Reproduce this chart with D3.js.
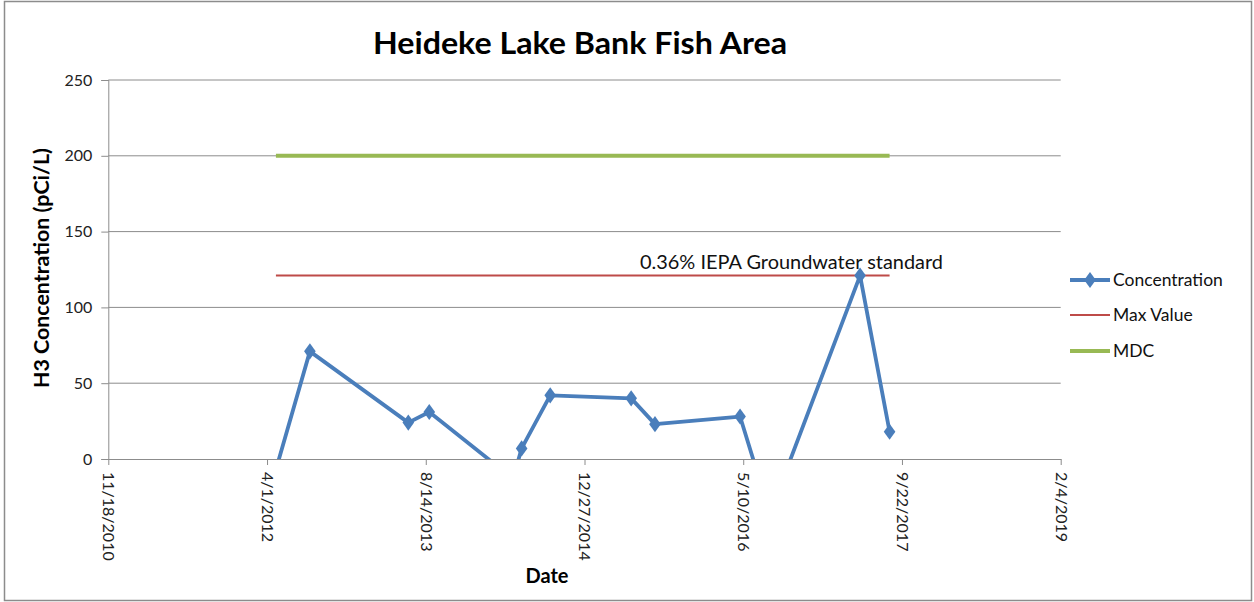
<!DOCTYPE html>
<html>
<head>
<meta charset="utf-8">
<script src="https://cdn.jsdelivr.net/npm/d3@7"></script>
<style>
  html, body { margin: 0; padding: 0; background: #fff; }
  svg { display: block; }
  text { font-family: Lato, "Open Sans", sans-serif; }
</style>
</head>
<body>
<script>
// ---- data ----
const sampleDates = ["2012-04-29","2012-08-14","2013-06-20","2013-08-25","2014-05-16","2014-06-12","2014-09-10","2015-05-23","2015-08-06","2016-04-30","2016-08-02","2017-05-13","2017-08-14"];
const concentration = [-7, 71, 24, 31, -13, 7, 42, 40, 23, 28, -36, 121, 18];
const maxValue = 121;
const mdcValue = 200;
const xTickLabels = ["2010-11-18","2012-04-01","2013-08-14","2014-12-27","2016-05-10","2017-09-22","2019-02-04"];
const yTicks = [0, 50, 100, 150, 200, 250];
const seriesNames = ["Concentration", "Max Value", "MDC"];
const titleText = "Heideke Lake Bank Fish Area";
const annotationText = "0.36% IEPA Groundwater standard";

// ---- setup ----
const W = 1254, H = 602;
const parse = d3.utcParse("%Y-%m-%d");
const fmt = d3.utcFormat("%-m/%-d/%Y");
const plot = { left: 108.3, right: 1060.7, top: 80, bottom: 459 };

const svg = d3.select("body").append("svg").attr("width", W).attr("height", H);

svg.append("rect").attr("x", 4.5).attr("y", 1.5).attr("width", 1247).attr("height", 599)
  .attr("fill", "#fff").attr("stroke", "#8c8c8c").attr("stroke-width", 1.5);

const x = d3.scaleUtc()
  .domain([parse(xTickLabels[0]), parse(xTickLabels[xTickLabels.length - 1])])
  .range([plot.left, plot.right]);
const y = d3.scaleLinear().domain([0, 250]).range([plot.bottom, plot.top]);

// gridlines
svg.append("g").selectAll("line").data(yTicks.filter(d => d > 0)).join("line")
  .attr("x1", plot.left).attr("x2", plot.right)
  .attr("y1", d => y(d)).attr("y2", d => y(d))
  .attr("stroke", "#8c8c8c").attr("stroke-width", 1);

// y axis
const yAxis = svg.append("g").attr("transform", `translate(${plot.left},0)`)
  .call(d3.axisLeft(y).tickValues(yTicks).tickSize(7).tickPadding(9));
yAxis.select(".domain").attr("stroke", "#8c8c8c");
yAxis.selectAll(".tick line").attr("stroke", "#8c8c8c");
yAxis.selectAll(".tick text").attr("font-size", 16).attr("fill", "#222")
  .attr("font-family", "Lato, sans-serif");

// x axis
const xAxis = svg.append("g").attr("transform", `translate(0,${plot.bottom})`)
  .call(d3.axisBottom(x).tickValues(xTickLabels.map(parse)).tickFormat(fmt).tickSize(6).tickSizeOuter(0));
xAxis.select(".domain").attr("stroke", "#8c8c8c");
xAxis.selectAll(".tick line").attr("stroke", "#8c8c8c");
xAxis.selectAll(".tick text")
  .attr("font-size", 16).attr("fill", "#222").attr("font-family", "Lato, sans-serif")
  .attr("text-anchor", "start").attr("dy", "0.35em")
  .attr("transform", "translate(0,13) rotate(90)").attr("x", 0).attr("y", 0);

// clip
svg.append("clipPath").attr("id", "clip").append("rect")
  .attr("x", plot.left).attr("y", plot.top)
  .attr("width", plot.right - plot.left).attr("height", plot.bottom - plot.top);

const g = svg.append("g").attr("clip-path", "url(#clip)");
const pts = sampleDates.map((d, i) => ({ date: parse(d), v: concentration[i] }));
const first = pts[0].date, last = pts[pts.length - 1].date;

// MDC line
g.append("path").datum([{ date: first, v: mdcValue }, { date: last, v: mdcValue }])
  .attr("d", d3.line().x(d => x(d.date)).y(d => y(d.v)))
  .attr("stroke", "#98b954").attr("stroke-width", 4).attr("fill", "none");
// Max line
g.append("path").datum([{ date: first, v: maxValue }, { date: last, v: maxValue }])
  .attr("d", d3.line().x(d => x(d.date)).y(d => y(d.v)))
  .attr("stroke", "#be4b48").attr("stroke-width", 2).attr("fill", "none");

// concentration
const blue = "#4a7ebb";
g.append("path").datum(pts)
  .attr("d", d3.line().x(d => x(d.date)).y(d => y(d.v)))
  .attr("stroke", blue).attr("stroke-width", 3.8).attr("fill", "none").attr("stroke-linejoin", "round");
const diamond = d3.symbol().type(d3.symbolDiamond).size(75);
g.selectAll("path.mk").data(pts).join("path").attr("class", "mk")
  .attr("d", diamond)
  .attr("transform", d => `translate(${x(d.date)},${y(d.v)}) scale(1.25,1)`)
  .attr("fill", blue);

// annotation
svg.append("text").attr("x", 640).attr("y", 269).attr("font-size", 19.5)
  .attr("font-family", "Lato, sans-serif").attr("fill", "#111")
  .attr("textLength", 303).attr("lengthAdjust", "spacingAndGlyphs").text(annotationText);

// title
svg.append("text").attr("x", 580).attr("y", 54).attr("text-anchor", "middle")
  .attr("font-size", 31).attr("font-weight", "bold").attr("fill", "#000")
  .attr("textLength", 414).attr("lengthAdjust", "spacingAndGlyphs").text(titleText);

// axis titles
svg.append("text").attr("transform", `translate(49,268) rotate(-90)`)
  .attr("text-anchor", "middle").attr("font-size", 20).attr("font-weight", "bold").attr("fill", "#000")
  .attr("textLength", 240).attr("lengthAdjust", "spacingAndGlyphs")
  .text("H3 Concentration (pCi/L)");
svg.append("text").attr("x", 547).attr("y", 583).attr("text-anchor", "middle")
  .attr("font-size", 20).attr("font-weight", "bold").attr("fill", "#000").text("Date");

// legend
const legY = [280, 315, 351];
const leg = svg.append("g");
seriesNames.forEach((name, i) => {
  const gy = legY[i];
  const color = [blue, "#be4b48", "#98b954"][i];
  const sw = [3.8, 2, 4][i];
  leg.append("line").attr("x1", 1070).attr("x2", 1110).attr("y1", gy).attr("y2", gy)
    .attr("stroke", color).attr("stroke-width", sw);
  if (i === 0) {
    leg.append("path").attr("d", diamond).attr("transform", `translate(1090,${gy}) scale(1.25,1)`).attr("fill", blue);
  }
  leg.append("text").attr("x", 1113).attr("y", gy).attr("dy", "0.35em")
    .attr("font-size", 17.5).attr("fill", "#111").text(name);
});
</script>
</body>
</html>
